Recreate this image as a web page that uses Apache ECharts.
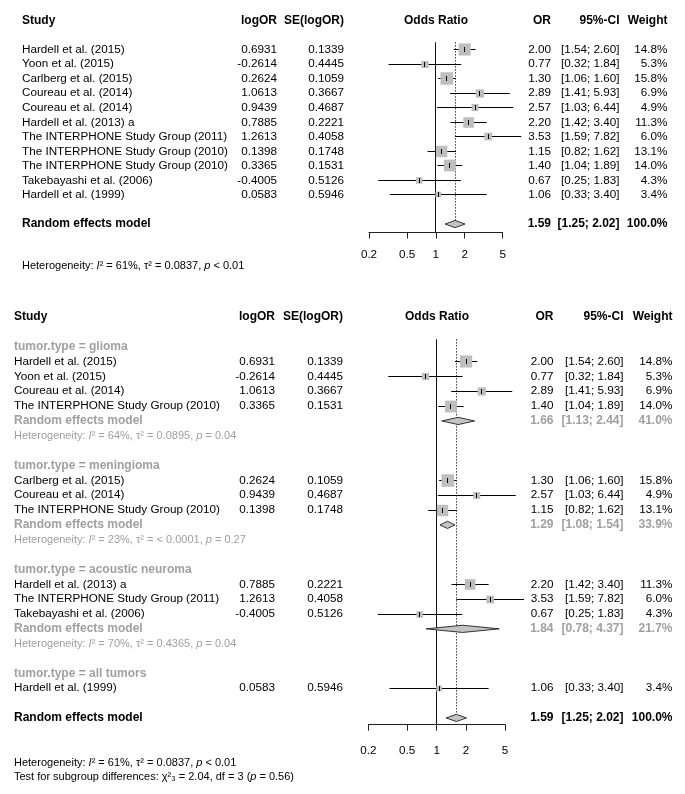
<!DOCTYPE html>
<html><head><meta charset="utf-8">
<script src="https://cdn.jsdelivr.net/npm/echarts@6/dist/echarts.min.js"></script>
<style>html,body{margin:0;padding:0;background:#fff}#c{width:685px;height:794px}</style>
</head><body><div id="c"></div><script>
// ---------- data ----------
const studies = ['Hardell et al. (2015)','Yoon et al. (2015)','Carlberg et al. (2015)','Coureau et al. (2014)','Coureau et al. (2014)','Hardell et al. (2013) a','The INTERPHONE Study Group (2011)','The INTERPHONE Study Group (2010)','The INTERPHONE Study Group (2010)','Takebayashi et al. (2006)','Hardell et al. (1999)'];
const logOR = [0.6931,-0.2614,0.2624,1.0613,0.9439,0.7885,1.2613,0.1398,0.3365,-0.4005,0.0583];
const seLogOR = [0.1339,0.4445,0.1059,0.3667,0.4687,0.2221,0.4058,0.1748,0.1531,0.5126,0.5946];
const orVal = [2.00,0.77,1.30,2.89,2.57,2.20,3.53,1.15,1.40,0.67,1.06];
const ciLow = [1.54,0.32,1.06,1.41,1.03,1.42,1.59,0.82,1.04,0.25,0.33];
const ciHigh = [2.60,1.84,1.60,5.93,6.44,3.40,7.82,1.62,1.89,1.83,3.40];
const weight = [14.8,5.3,15.8,6.9,4.9,11.3,6.0,13.1,14.0,4.3,3.4];
const tumorType = ['glioma','glioma','meningioma','glioma','meningioma','acoustic neuroma','acoustic neuroma','meningioma','glioma','acoustic neuroma','all tumors'];

const subgroups = ['glioma','meningioma','acoustic neuroma','all tumors'];
const subOR = [1.66,1.29,1.84,null];
const subLow = [1.13,1.08,0.78,null];
const subHigh = [2.44,1.54,4.37,null];
const subWeight = [41.0,33.9,21.7,null];
const subI2 = ['64%','23%','70%',null];
const subTau2 = ['0.0895','< 0.0001','0.4365',null];
const subP = ['= 0.04','= 0.27','= 0.04',null];

const pooledOR = 1.59, pooledLow = 1.25, pooledHigh = 2.02, pooledWeight = 100.0;
const pooledI2 = '61%', pooledTau2 = '0.0837', pooledP = '< 0.01';
const testChi2 = '2.04', testDf = '3', testP = '0.56';
const tickOR = [0.2,0.5,1,2,5];

// ---------- style ----------
const FONT = '"Liberation Sans", Arial, Helvetica, sans-serif';
const BLACK = '#000', GRAY = '#a0a0a0';
const FS = 11.7, FSB = 12, FSH = 11;
const ln = Math.log;
const snap = v => Math.round(v - 0.5) + 0.5;

const topCols = {study:22, logor:277, se:344, plot:436, or:551, ci:619.5, w:667.5};
const botCols = {study:14, logor:275, se:343, plot:437, or:553.5, ci:623.5, w:672.5};

function ciText(lo, hi){ return '[' + lo.toFixed(2) + '; ' + hi.toFixed(2) + ']'; }
function cell(x, text, align, bold, color, size){ return {x, text, align, bold:!!bold, color:color||BLACK, size:size||(bold?FSB:FS)}; }
function hetRich(i2, tau2, p){
  return '{n|Heterogeneity: }{i|I}{n|\u00b2 = ' + i2 + ', \u03c4\u00b2 = ' + tau2 + ', }{i|p}{n| ' + p + '}';
}
function headerRow(r, c){
  return {r, cells:[cell(c.study,'Study','left',1), cell(c.logor,'logOR','right',1), cell(c.se,'SE(logOR)','right',1),
    cell(c.plot,'Odds Ratio','center',1), cell(c.or,'OR','right',1), cell(c.ci,'95%-CI','right',1), cell(c.w,'Weight','right',1)]};
}
function studyRow(r, c, i){
  return {r, cells:[cell(c.study, studies[i], 'left'), cell(c.logor, logOR[i].toFixed(4), 'right'), cell(c.se, seLogOR[i].toFixed(4), 'right'),
    cell(c.or, orVal[i].toFixed(2), 'right'), cell(c.ci, ciText(ciLow[i], ciHigh[i]), 'right'), cell(c.w, weight[i].toFixed(1)+'%', 'right')]};
}
function summaryRow(r, c, est, lo, hi, w, color){
  return {r, cells:[cell(c.study,'Random effects model','left',1,color), cell(c.or, est.toFixed(2),'right',1,color),
    cell(c.ci, ciText(lo,hi),'right',1,color), cell(c.w, w.toFixed(1)+'%','right',1,color)]};
}

// ---------- top plot layout ----------
const topText = [headerRow(0, topCols)];
const topCI = [];
studies.forEach((s,i)=>{ topText.push(studyRow(2+i, topCols, i)); topCI.push([ln(ciLow[i]), ln(ciHigh[i]), ln(orVal[i]), 2+i, weight[i]]); });
const topPoolRow = 2 + studies.length + 1;
topText.push(summaryRow(topPoolRow, topCols, pooledOR, pooledLow, pooledHigh, pooledWeight, BLACK));
topText.push({r:topPoolRow+2.85, cells:[{x:topCols.study, text:hetRich(pooledI2,pooledTau2,pooledP), align:'left', rich:true, color:BLACK, size:FSH}]});
const topDiamonds = [[ln(pooledLow), ln(pooledHigh), ln(pooledOR), topPoolRow, 0]];

// ---------- bottom plot layout ----------
const botText = [headerRow(0, botCols)];
const botCI = [];
const botDiamonds = [];
let r = 2;
subgroups.forEach((g, gi)=>{
  botText.push({r, cells:[cell(botCols.study, 'tumor.type = ' + g, 'left', 1, GRAY)]});
  r++;
  studies.forEach((s,i)=>{
    if (tumorType[i] !== g) return;
    botText.push(studyRow(r, botCols, i));
    botCI.push([ln(ciLow[i]), ln(ciHigh[i]), ln(orVal[i]), r, weight[i]]);
    r++;
  });
  if (subOR[gi] !== null) {
    botText.push(summaryRow(r, botCols, subOR[gi], subLow[gi], subHigh[gi], subWeight[gi], GRAY));
    botDiamonds.push([ln(subLow[gi]), ln(subHigh[gi]), ln(subOR[gi]), r, 1]);
    r++;
    botText.push({r, cells:[{x:botCols.study, text:hetRich(subI2[gi],subTau2[gi],subP[gi]), align:'left', rich:true, color:GRAY, size:FSH}]});
    r++;
  }
  r++;
});
const botPoolRow = r;
botText.push(summaryRow(botPoolRow, botCols, pooledOR, pooledLow, pooledHigh, pooledWeight, BLACK));
botDiamonds.push([ln(pooledLow), ln(pooledHigh), ln(pooledOR), botPoolRow, 0]);
botText.push({r:botPoolRow+3, cells:[{x:botCols.study, text:hetRich(pooledI2,pooledTau2,pooledP), align:'left', rich:true, color:BLACK, size:FSH}]});
botText.push({r:botPoolRow+4, cells:[{x:botCols.study, text:'{n|Test for subgroup differences: \u03c7\u00b2\u2083 = ' + testChi2 + ', df = ' + testDf + ' (}{i|p}{n| = ' + testP + ')}', align:'left', rich:true, color:BLACK, size:FSH}]});

const topMax = topPoolRow + 0.55;
const botMax = botPoolRow + 0.42;

// ---------- renderers ----------
function textRenderer(rows){
  return function(params, api){
    const row = rows[params.dataIndex];
    const y = api.coord([0, row.r])[1];
    const children = row.cells.map(c => {
      const st = {text:c.text, fill:c.color, fontSize:c.size, fontWeight:c.bold?'bold':'normal', fontFamily:FONT, align:c.align, verticalAlign:'middle'};
      if (c.rich) st.rich = {
        n:{fontSize:c.size, fontFamily:FONT, fill:c.color},
        i:{fontSize:c.size, fontFamily:FONT, fontStyle:'italic', fill:c.color}
      };
      return {type:'text', x:c.x, y:y, style:st, silent:true};
    });
    return {type:'group', children};
  };
}
function ciRenderer(params, api){
  const y = api.value(3);
  const p1 = api.coord([api.value(0), y]), p2 = api.coord([api.value(1), y]), pe = api.coord([api.value(2), y]);
  const s = 3.15 * Math.sqrt(api.value(4));
  const yy = snap(pe[1]), xe = snap(pe[0]);
  return {type:'group', children:[
    {type:'line', shape:{x1:p1[0], y1:yy, x2:p2[0], y2:yy}, style:{stroke:'#000', lineWidth:1}},
    {type:'rect', shape:{x:pe[0]-s/2, y:yy-s/2, width:s, height:s}, style:{fill:'#bebebe'}},
    {type:'line', shape:{x1:xe, y1:yy-2.5, x2:xe, y2:yy+2.5}, style:{stroke:'#000', lineWidth:1}}
  ]};
}
function diamondRenderer(params, api){
  const y = api.value(3);
  const lo = api.coord([api.value(0), y]), hi = api.coord([api.value(1), y]), e = api.coord([api.value(2), y]);
  const h = 3.6;
  return {type:'polygon', shape:{points:[[lo[0],e[1]],[e[0],e[1]-h],[hi[0],e[1]],[e[0],e[1]+h]]},
    style:{fill:'#c4c4c4', stroke:'#333', lineWidth:1}};
}
function refRenderer(params, api){
  const x = api.value(0);
  const a = api.coord([x, api.value(1)]), b = api.coord([x, api.value(2)]);
  const dotted = api.value(3) === 1;
  const xx = snap(a[0]);
  return {type:'line', shape:{x1:xx, y1:a[1], x2:xx, y2:b[1] - (dotted?3.6:0)},
    style:{stroke:'#111', lineWidth:1, lineDash: dotted ? [1.2,1.8] : null}};
}

function xAxisFor(gi, margin){
  return {type:'value', gridIndex:gi, position:'bottom', min:ln(tickOR[0]), max:ln(tickOR[tickOR.length-1]),
    axisLine:{show:true, onZero:false, lineStyle:{color:'#222', width:1}},
    axisTick:{show:true, length:6.5, customValues:tickOR.map(ln), lineStyle:{color:'#222', width:1}},
    axisLabel:{customValues:tickOR.map(ln), formatter:v => String(Math.round(Math.exp(v)*10)/10),
      fontSize:FS, fontFamily:FONT, color:BLACK, margin:margin},
    splitLine:{show:false}};
}

const chart = echarts.init(document.getElementById('c'), null, {renderer:'canvas'});
chart.setOption({
  animation:false,
  backgroundColor:'#fff',
  grid:[
    {left:369, right:182.3, top:20.5, height:topMax*14.54, containLabel:false, outerBoundsMode:'none'},
    {left:368.3, right:180, top:317, height:botMax*14.85, containLabel:false, outerBoundsMode:'none'}
  ],
  xAxis:[xAxisFor(0, 17), xAxisFor(1, 21)],
  yAxis:[
    {type:'value', gridIndex:0, min:0, max:topMax, inverse:true, show:false},
    {type:'value', gridIndex:1, min:0, max:botMax, inverse:true, show:false}
  ],
  series:[
    {type:'custom', xAxisIndex:0, yAxisIndex:0, renderItem:refRenderer, clip:false,
      data:[[0, 1.5, topMax, 0], [ln(pooledOR), 1.5, topPoolRow, 1]]},
    {type:'custom', xAxisIndex:0, yAxisIndex:0, renderItem:ciRenderer, clip:false, data:topCI},
    {type:'custom', xAxisIndex:0, yAxisIndex:0, renderItem:diamondRenderer, clip:false, data:topDiamonds},
    {type:'custom', xAxisIndex:0, yAxisIndex:0, renderItem:textRenderer(topText), clip:false, data:topText.map(t=>[0,t.r])},
    {type:'custom', xAxisIndex:1, yAxisIndex:1, renderItem:refRenderer, clip:false,
      data:[[0, 1.5, botMax, 0], [ln(pooledOR), 1.5, botPoolRow, 1]]},
    {type:'custom', xAxisIndex:1, yAxisIndex:1, renderItem:ciRenderer, clip:false, data:botCI},
    {type:'custom', xAxisIndex:1, yAxisIndex:1, renderItem:diamondRenderer, clip:false, data:botDiamonds},
    {type:'custom', xAxisIndex:1, yAxisIndex:1, renderItem:textRenderer(botText), clip:false, data:botText.map(t=>[0,t.r])}
  ]
});
</script></body></html>
